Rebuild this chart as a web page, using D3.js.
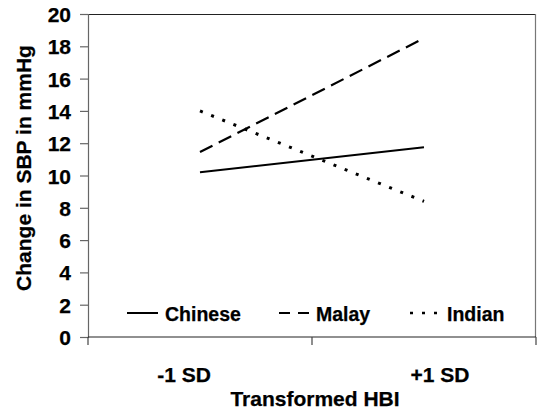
<!DOCTYPE html>
<html>
<head>
<meta charset="utf-8">
<script src="https://cdn.jsdelivr.net/npm/d3@7"></script>
<style>
  html, body { margin: 0; padding: 0; background: #fff; }
  svg { display: block; }
  text { font-family: "Liberation Sans", Arial, sans-serif; font-weight: bold; fill: #000; stroke: #000; stroke-width: 0.25px; }
</style>
</head>
<body>
<svg id="chart" width="538" height="410"></svg>
<script>
// Categories on the x axis
const categories = ["-1 SD", "+1 SD"];
// Change in SBP (mmHg) per ethnic group
const chinese = [10.2, 11.75];
const malay = [11.45, 18.5];
const indian = [14.0, 8.4];
const seriesNames = ["Chinese", "Malay", "Indian"];
const yTicks = [0, 2, 4, 6, 8, 10, 12, 14, 16, 18, 20];

const series = [
  { name: seriesNames[0], values: chinese, dash: null, width: 2.2 },
  { name: seriesNames[1], values: malay, dash: "14,7", width: 2.2 },
  { name: seriesNames[2], values: indian, dash: "3,9", width: 3 }
];

const svg = d3.select("#chart");
const plotL = 88, plotR = 536, plotT = 14, plotB = 337;

const x = d3.scaleBand().domain(categories).range([plotL, plotR]);
const xLabel = d3.scalePoint().domain(categories).range([plotL, plotR]).padding(0.375);
const y = d3.scaleLinear().domain([0, 20]).range([plotB, plotT]);

// plot frame: top and right edges
svg.append("line").attr("x1", plotL).attr("x2", plotR).attr("y1", plotT + 0.5).attr("y2", plotT + 0.5)
  .attr("stroke", "#222").attr("stroke-width", 1.2);
svg.append("line").attr("x1", plotR - 0.5).attr("x2", plotR - 0.5).attr("y1", plotT).attr("y2", plotB)
  .attr("stroke", "#777").attr("stroke-width", 1.2);

// y axis
const yAxis = svg.append("g").attr("transform", `translate(${plotL},0)`)
  .call(d3.axisLeft(y).tickValues(yTicks).tickSize(8).tickPadding(9).tickFormat(d3.format("d")));
yAxis.select(".domain").attr("stroke", "#666").attr("stroke-width", 1.2);
yAxis.selectAll(".tick line").attr("stroke", "#666").attr("stroke-width", 1.2);
yAxis.selectAll(".tick text").attr("font-size", 21).attr("dy", "0.36em")
  .style("font-family", "'Liberation Sans', Arial, sans-serif").style("font-weight", "bold");

// x axis with ticks at category boundaries
const xAxis = svg.append("g").attr("transform", `translate(0,${plotB})`);
xAxis.append("line").attr("x1", plotL).attr("x2", plotR).attr("stroke", "#222").attr("stroke-width", 1.2);
const bounds = [x.range()[0], x(categories[1]), x.range()[1]];
xAxis.selectAll("line.tk").data(bounds).join("line").attr("class", "tk")
  .attr("x1", d => d).attr("x2", d => d).attr("y1", 0).attr("y2", 8)
  .attr("stroke", "#444").attr("stroke-width", 1.2);
xAxis.selectAll("text.cat").data(categories).join("text").attr("class", "cat")
  .attr("x", d => xLabel(d)).attr("y", 45).attr("text-anchor", "middle").attr("font-size", 21)
  .text(d => d);

// axis titles
svg.append("text").attr("x", 315).attr("y", 406).attr("text-anchor", "middle")
  .attr("font-size", 21).text("Transformed HBI");
svg.append("text").attr("transform", "translate(31,168) rotate(-90)")
  .attr("text-anchor", "middle").attr("font-size", 21).text("Change in SBP in mmHg");

// series lines
const line = d3.line().x((d, i) => x(categories[i]) + x.bandwidth() / 2).y(d => y(d));
svg.selectAll("path.series").data(series).join("path").attr("class", "series")
  .attr("d", d => line(d.values)).attr("fill", "none").attr("stroke", "#000")
  .attr("stroke-width", d => d.width).attr("stroke-dasharray", d => d.dash);

// legend
const legendX = [127, 279, 410];
const legendY = 313;
const lg = svg.selectAll("g.legend").data(series).join("g").attr("class", "legend")
  .attr("transform", (d, i) => `translate(${legendX[i]},${legendY})`);
lg.append("line").attr("x1", 0).attr("x2", 31).attr("stroke", "#000")
  .attr("stroke-width", (d, i) => i === 2 ? 2.6 : 2)
  .attr("stroke-dasharray", (d, i) => i === 0 ? null : (i === 1 ? "11,8" : "3,9"));
lg.append("text").attr("x", (d, i) => i === 0 ? 38 : 37).attr("y", 8).attr("font-size", 19.5).text(d => d.name);
</script>
</body>
</html>
